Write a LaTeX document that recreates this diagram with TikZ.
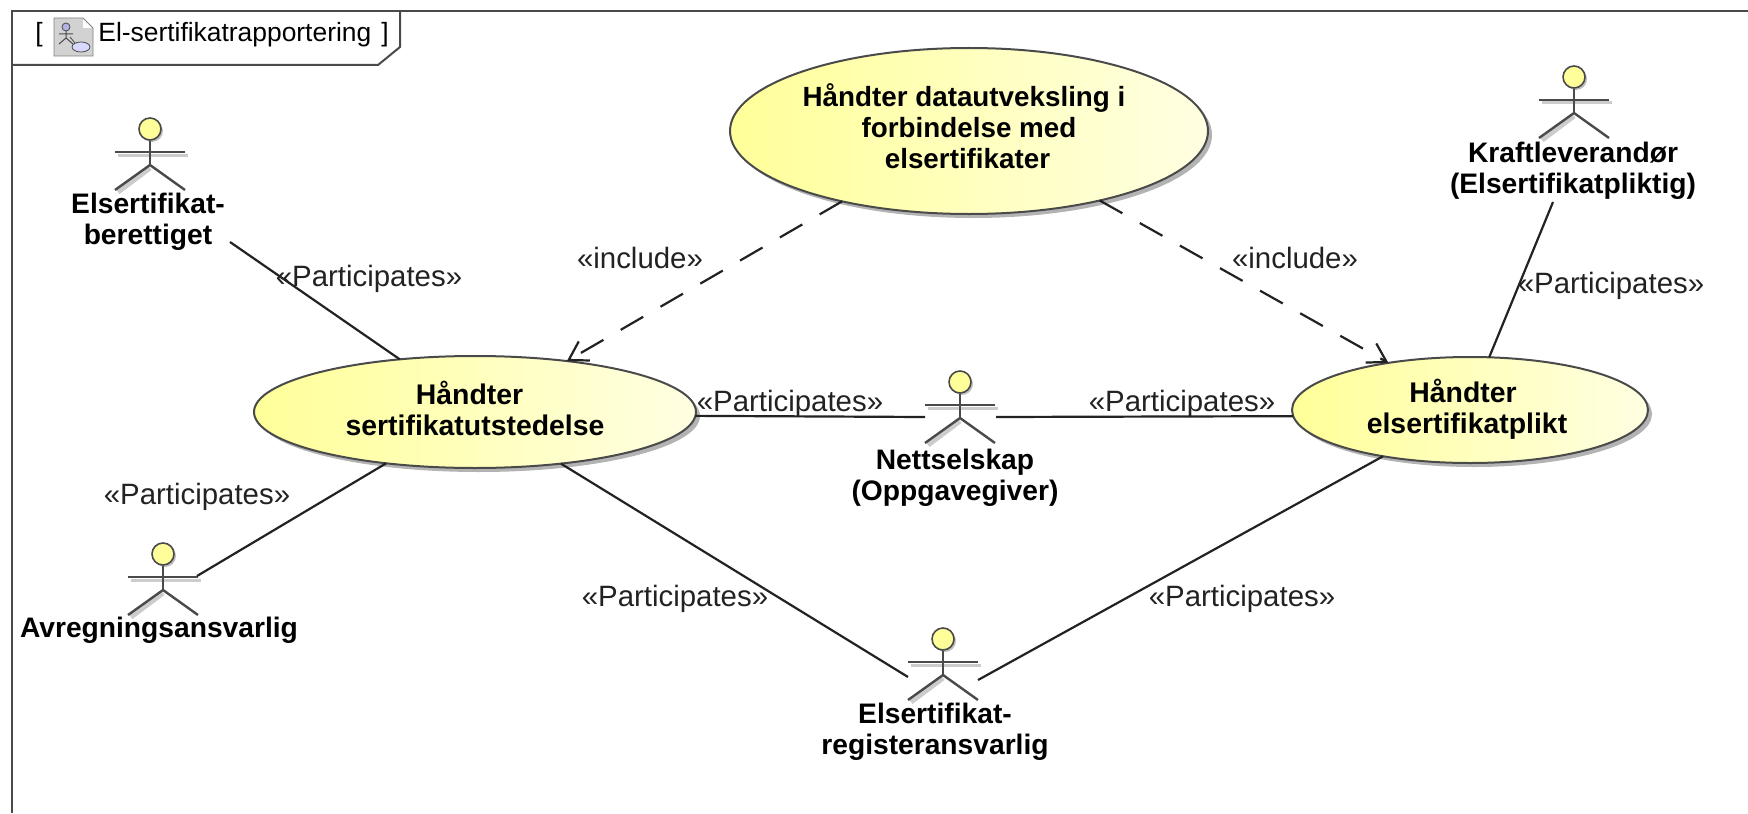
\documentclass[tikz,border=0pt]{standalone}
\usepackage{fontspec}
\setmainfont{Liberation Sans}
\usetikzlibrary{shapes.geometric,shadows,arrows.meta}

\definecolor{lineclr}{HTML}{222222}
\definecolor{frameclr}{HTML}{4A4A4A}
\definecolor{caseleft}{HTML}{FFFF99}
\definecolor{caseright}{HTML}{FFFFE2}

\newcommand{\lifted}[1]{\rule[-#1]{0pt}{#1}}

\tikzset{
    usecase/.style={ellipse, draw=frameclr, line width=1pt, inner sep=0pt, outer sep=0pt, align=center,
        left color=caseleft, right color=caseright, font=\fontsize{14.2}{15.5}\selectfont\bfseries,
        drop shadow={shadow xshift=2pt, shadow yshift=-2pt, fill=gray, opacity=.6}},
    actorname/.style={align=center, inner sep=0pt, font=\fontsize{14.1}{15.5}\selectfont\bfseries},
    stereotype/.style={inner sep=0pt, text=lineclr, font=\fontsize{14.7}{16}\selectfont},
    titletext/.style={inner sep=0pt, font=\fontsize{13.2}{15}\selectfont},
    assoc/.style={draw=lineclr, line width=1.1pt},
    includes/.style={draw=lineclr, line width=1.1pt, dash pattern=on 13pt off 10pt,
        -{Straight Barb[length=9pt,width=11pt]}},
    pics/actor/.style={code={
        \draw[gray!40, line width=1.5pt] (-32,26) -- (38,26);
        \draw[gray!40, line width=2.5pt] (0,39) -- (-32,63);
        \node[circle, draw=frameclr, line width=.8pt, fill=caseleft, inner sep=0pt, minimum size=11pt,
            drop shadow={shadow xshift=1pt, shadow yshift=-1pt, fill=gray, opacity=.5}] (-head) at (0,0) {};
        \draw[frameclr, line width=1.2pt] (-35,23) -- (35,23);
        \draw[frameclr, line width=1.2pt] (-head) -- (0,36);
        \draw[frameclr, line width=1.2pt] (-35,61) -- (0,36) -- (35,61);
    }},
}

\begin{document}
\begin{tikzpicture}[x=0.5pt, y=-0.5pt]
    \useasboundingbox (0,0) rectangle (1748,813);

    \draw[frameclr, line width=1pt] (1748,11) -- (12,11) -- (12,813);
    \draw[frameclr, line width=1pt] (12,65) -- (378,65) -- (400,47) -- (400,11);

    \node[titletext] (openbracket) at (39,35) {[};
    \node[titletext] (closebracket) at (385,35) {]};
    \node[titletext, anchor=west] (title) at (98,35) {El-sertifikatrapportering};

    \fill[gray!35] (54,18) -- (83,18) -- (93,28) -- (93,56) -- (54,56) -- cycle;
    \fill[white] (83,18) -- (93,28) -- (83,28) -- cycle;
    \draw[gray, line width=.4pt] (54,18) -- (83,18) -- (93,28) -- (93,56) -- (54,56) -- cycle;
    \draw[frameclr, line width=.5pt] (66,31) -- (66,38) (59,34) -- (73,34) (59,44) -- (66,38) -- (73,44);
    \draw[frameclr, fill=gray!50!blue!40, line width=.4pt] (66,27) circle (4);
    \draw[frameclr, fill=blue!15, line width=.4pt] (81,47) ellipse (9 and 5);
    \draw[frameclr, line width=.4pt] (70,37) -- (75,43);

    \node[usecase, font=\fontsize{13.9}{15.5}\selectfont\bfseries, minimum width=239pt, minimum height=83pt] (exchange) at (969,131)
        {Håndter datautveksling i\hspace*{5pt}\\forbindelse med\hspace*{5pt}\\elsertifikater\hspace*{1.5pt}\lifted{4.5pt}};
    \node[usecase, minimum width=221pt, minimum height=56pt] (issuing) at (475,412)
        {Håndter\hspace*{5.5pt}\\sertifikatutstedelse\lifted{4pt}};
    \node[usecase, minimum width=178pt, minimum height=53pt] (obligation) at (1470,410)
        {Håndter\hspace*{7pt}\\elsertifikatplikt\hspace*{3pt}\lifted{4pt}};

    \pic (entitled) at (150,129) {actor};
    \pic (supplier) at (1574,77) {actor};
    \pic (grid) at (960,382) {actor};
    \pic (settlement) at (163,554) {actor};
    \pic (registry) at (943,639) {actor};

    \node[actorname] (entitledname) at (148,222) {Elsertifikat-\\berettiget};
    \node[actorname] (suppliername) at (1573,171) {Kraftleverandør\\(Elsertifikatpliktig)};
    \node[actorname] (gridname) at (955,478) {Nettselskap\\(Oppgavegiver)};
    \node[actorname] (settlementname) at (159,630) {Avregningsansvarlig};
    \node[actorname] (registryname) at (935,732) {Elsertifikat-\\registeransvarlig};

    \coordinate (entitledend) at (230,242);
    \coordinate (supplierend) at (1553,202);
    \coordinate (gridleft) at (925,417);
    \coordinate (gridright) at (996,417);
    \coordinate (settlementend) at (197,576);
    \coordinate (registryleft) at (908,677);
    \coordinate (registryright) at (978,680);

    \draw[assoc] (entitledend) -- (issuing.145);
    \draw[assoc] (settlementend) -- (issuing.210);
    \draw[assoc] (gridleft) -- (issuing.-1.3);
    \draw[assoc] (registryleft) -- (issuing.329);
    \draw[assoc] (gridright) -- (obligation.182.3);
    \draw[assoc] (registryright) -- (obligation.208);
    \draw[assoc] (supplierend) -- (obligation.70);

    \draw[includes] (exchange.209) -- (issuing.29);
    \draw[includes] (exchange.-28) -- (obligation.150);

    \node[stereotype] (includeleft) at (640,258) {«include»};
    \node[stereotype] (includeright) at (1295,258) {«include»};
    \node[stereotype] (entitledrole) at (369,279) {«Participates»};
    \node[stereotype] (settlementrole) at (197,497) {«Participates»};
    \node[stereotype] (registryleftrole) at (675,599) {«Participates»};
    \node[stereotype] (gridleftrole) at (790,404) {«Participates»};
    \node[stereotype] (gridrightrole) at (1182,404) {«Participates»};
    \node[stereotype] (registryrightrole) at (1242,599) {«Participates»};
    \node[stereotype] (supplierrole) at (1611,286) {«Participates»};
\end{tikzpicture}
\end{document}
